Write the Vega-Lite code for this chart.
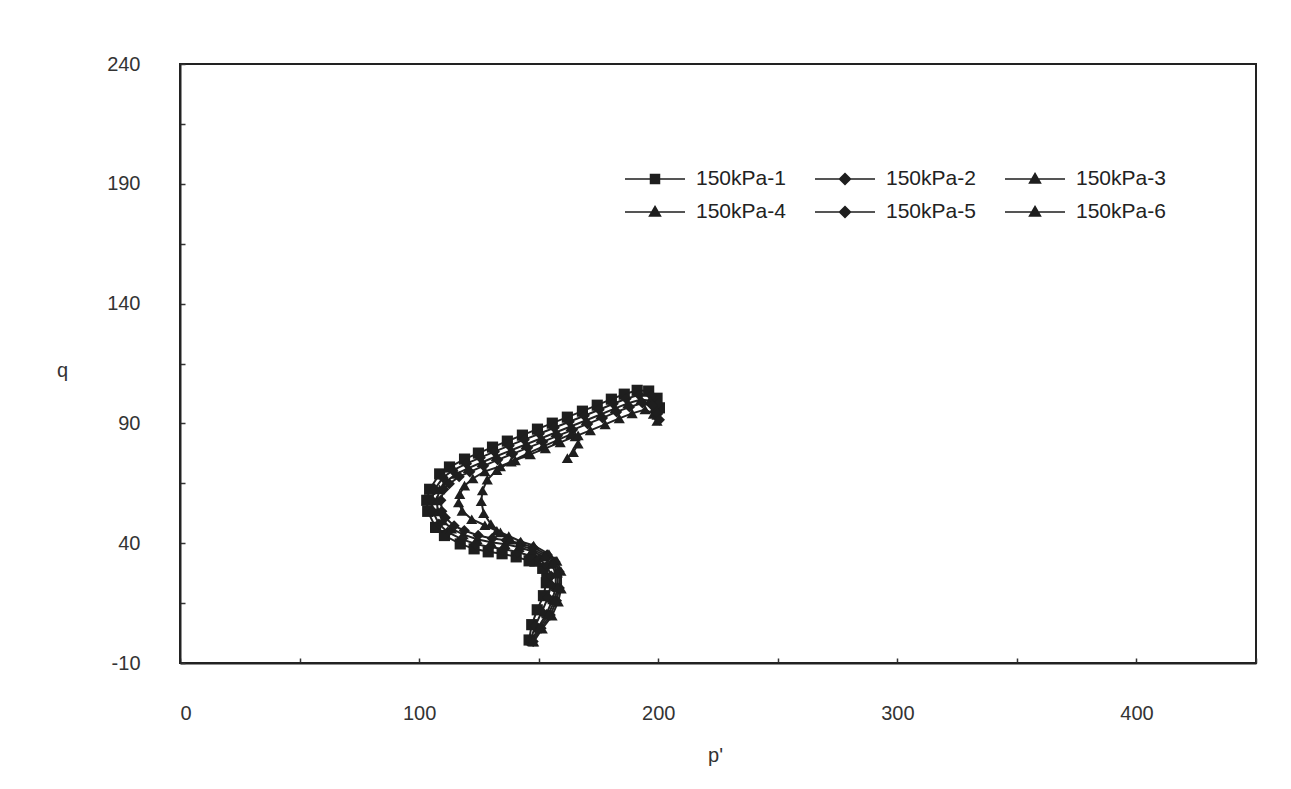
{
  "$schema": "https://vega.github.io/schema/vega-lite/v6.json",
  "autosize": {"type": "none"},
  "padding": {"left": 180, "top": 64, "right": 35, "bottom": 126},
  "width": 1076,
  "height": 599,
  "background": "white",
  "data": {"values": [
    {"s":"150kPa-1","i":0,"p":146.0,"q":-0.4},{"s":"150kPa-1","i":1,"p":147.1,"q":6.0},{"s":"150kPa-1","i":2,"p":149.4,"q":12.2},{"s":"150kPa-1","i":3,"p":152.0,"q":18.1},{"s":"150kPa-1","i":4,"p":153.2,"q":23.5},{"s":"150kPa-1","i":5,"p":153.4,"q":25.4},{"s":"150kPa-1","i":6,"p":151.7,"q":29.5},{"s":"150kPa-1","i":7,"p":148.4,"q":32.5},{"s":"150kPa-1","i":8,"p":146.0,"q":32.65},{"s":"150kPa-1","i":9,"p":140.6,"q":34.3},{"s":"150kPa-1","i":10,"p":134.7,"q":35.6},{"s":"150kPa-1","i":11,"p":128.9,"q":36.4},{"s":"150kPa-1","i":12,"p":123.0,"q":37.65},{"s":"150kPa-1","i":13,"p":117.2,"q":39.7},{"s":"150kPa-1","i":14,"p":110.6,"q":43.2},{"s":"150kPa-1","i":15,"p":106.9,"q":46.6},{"s":"150kPa-1","i":16,"p":103.6,"q":53.3},{"s":"150kPa-1","i":17,"p":103.2,"q":57.9},{"s":"150kPa-1","i":18,"p":104.4,"q":62.5},{"s":"150kPa-1","i":19,"p":108.6,"q":68.9},{"s":"150kPa-1","i":20,"p":112.7,"q":71.8},{"s":"150kPa-1","i":21,"p":119.0,"q":75.1},{"s":"150kPa-1","i":22,"p":124.8,"q":77.6},{"s":"150kPa-1","i":23,"p":130.7,"q":80.1},{"s":"150kPa-1","i":24,"p":136.9,"q":82.6},{"s":"150kPa-1","i":25,"p":143.2,"q":85.1},{"s":"150kPa-1","i":26,"p":149.5,"q":87.6},{"s":"150kPa-1","i":27,"p":155.7,"q":90.1},{"s":"150kPa-1","i":28,"p":162.0,"q":92.6},{"s":"150kPa-1","i":29,"p":168.3,"q":95.1},{"s":"150kPa-1","i":30,"p":174.5,"q":97.6},{"s":"150kPa-1","i":31,"p":180.4,"q":100.1},{"s":"150kPa-1","i":32,"p":185.8,"q":102.2},{"s":"150kPa-1","i":33,"p":191.2,"q":103.8},{"s":"150kPa-1","i":34,"p":196.0,"q":103.5},{"s":"150kPa-1","i":35,"p":199.5,"q":100.5},{"s":"150kPa-1","i":36,"p":200.5,"q":96.5},
    {"s":"150kPa-2","i":0,"p":146.6,"q":-0.6},{"s":"150kPa-2","i":1,"p":148.5,"q":5.4},{"s":"150kPa-2","i":2,"p":151.3,"q":11.4},{"s":"150kPa-2","i":3,"p":153.9,"q":17.3},{"s":"150kPa-2","i":4,"p":155.1,"q":22.7},{"s":"150kPa-2","i":5,"p":155.2,"q":26.3},{"s":"150kPa-2","i":6,"p":153.5,"q":30.5},{"s":"150kPa-2","i":7,"p":150.2,"q":33.4},{"s":"150kPa-2","i":8,"p":146.6,"q":34.65},{"s":"150kPa-2","i":9,"p":141.2,"q":36.3},{"s":"150kPa-2","i":10,"p":135.3,"q":37.6},{"s":"150kPa-2","i":11,"p":129.5,"q":38.4},{"s":"150kPa-2","i":12,"p":123.6,"q":39.65},{"s":"150kPa-2","i":13,"p":117.8,"q":41.7},{"s":"150kPa-2","i":14,"p":112.0,"q":44.6},{"s":"150kPa-2","i":15,"p":108.3,"q":48.0},{"s":"150kPa-2","i":16,"p":105.7,"q":53.3},{"s":"150kPa-2","i":17,"p":105.3,"q":57.9},{"s":"150kPa-2","i":18,"p":106.5,"q":62.5},{"s":"150kPa-2","i":19,"p":110.0,"q":67.4},{"s":"150kPa-2","i":20,"p":114.1,"q":70.4},{"s":"150kPa-2","i":21,"p":119.8,"q":73.2},{"s":"150kPa-2","i":22,"p":125.6,"q":75.7},{"s":"150kPa-2","i":23,"p":131.5,"q":78.2},{"s":"150kPa-2","i":24,"p":137.7,"q":80.7},{"s":"150kPa-2","i":25,"p":144.0,"q":83.2},{"s":"150kPa-2","i":26,"p":150.3,"q":85.7},{"s":"150kPa-2","i":27,"p":156.5,"q":88.2},{"s":"150kPa-2","i":28,"p":162.8,"q":90.7},{"s":"150kPa-2","i":29,"p":169.1,"q":93.2},{"s":"150kPa-2","i":30,"p":175.3,"q":95.7},{"s":"150kPa-2","i":31,"p":181.2,"q":98.2},{"s":"150kPa-2","i":32,"p":186.6,"q":100.3},{"s":"150kPa-2","i":33,"p":192.0,"q":101.9},{"s":"150kPa-2","i":34,"p":197.2,"q":101.5},{"s":"150kPa-2","i":35,"p":199.8,"q":98.0},
    {"s":"150kPa-3","i":0,"p":147.9,"q":-1.1},{"s":"150kPa-3","i":1,"p":151.5,"q":4.3},{"s":"150kPa-3","i":2,"p":155.6,"q":9.75},{"s":"150kPa-3","i":3,"p":158.2,"q":15.65},{"s":"150kPa-3","i":4,"p":159.4,"q":21.05},{"s":"150kPa-3","i":5,"p":159.3,"q":28.4},{"s":"150kPa-3","i":6,"p":157.6,"q":32.6},{"s":"150kPa-3","i":7,"p":154.3,"q":35.5},{"s":"150kPa-3","i":8,"p":147.9,"q":39.05},{"s":"150kPa-3","i":9,"p":142.5,"q":40.7},{"s":"150kPa-3","i":10,"p":137.5,"q":43.0},{"s":"150kPa-3","i":11,"p":132.5,"q":45.2},{"s":"150kPa-3","i":12,"p":127.5,"q":47.5},{"s":"150kPa-3","i":13,"p":122.0,"q":50.0},{"s":"150kPa-3","i":14,"p":118.0,"q":53.5},{"s":"150kPa-3","i":15,"p":116.5,"q":57.0},{"s":"150kPa-3","i":16,"p":117.0,"q":60.5},{"s":"150kPa-3","i":17,"p":119.0,"q":64.0},{"s":"150kPa-3","i":18,"p":122.5,"q":67.0},{"s":"150kPa-3","i":19,"p":127.5,"q":70.0},{"s":"150kPa-3","i":20,"p":134.0,"q":72.1},{"s":"150kPa-3","i":21,"p":140.2,"q":74.6},{"s":"150kPa-3","i":22,"p":146.5,"q":77.1},{"s":"150kPa-3","i":23,"p":152.8,"q":79.6},{"s":"150kPa-3","i":24,"p":159.0,"q":82.1},{"s":"150kPa-3","i":25,"p":165.3,"q":84.6},{"s":"150kPa-3","i":26,"p":171.6,"q":87.1},{"s":"150kPa-3","i":27,"p":177.8,"q":89.6},{"s":"150kPa-3","i":28,"p":183.7,"q":92.1},{"s":"150kPa-3","i":29,"p":189.1,"q":94.2},{"s":"150kPa-3","i":30,"p":194.5,"q":95.8},{"s":"150kPa-3","i":31,"p":198.0,"q":94.0},{"s":"150kPa-3","i":32,"p":199.5,"q":91.0},
    {"s":"150kPa-4","i":0,"p":147.2,"q":-0.8},{"s":"150kPa-4","i":1,"p":149.9,"q":4.9},{"s":"150kPa-4","i":2,"p":153.3,"q":10.65},{"s":"150kPa-4","i":3,"p":155.9,"q":16.55},{"s":"150kPa-4","i":4,"p":157.1,"q":21.95},{"s":"150kPa-4","i":5,"p":157.1,"q":27.3},{"s":"150kPa-4","i":6,"p":155.4,"q":31.4},{"s":"150kPa-4","i":7,"p":152.1,"q":34.4},{"s":"150kPa-4","i":8,"p":147.2,"q":36.65},{"s":"150kPa-4","i":9,"p":141.8,"q":38.3},{"s":"150kPa-4","i":10,"p":135.9,"q":39.6},{"s":"150kPa-4","i":11,"p":130.1,"q":40.4},{"s":"150kPa-4","i":12,"p":124.2,"q":41.65},{"s":"150kPa-4","i":13,"p":118.4,"q":43.7},{"s":"150kPa-4","i":14,"p":113.5,"q":46.1},{"s":"150kPa-4","i":15,"p":109.8,"q":49.5},{"s":"150kPa-4","i":16,"p":107.8,"q":53.3},{"s":"150kPa-4","i":17,"p":107.4,"q":57.9},{"s":"150kPa-4","i":18,"p":108.6,"q":62.5},{"s":"150kPa-4","i":19,"p":111.5,"q":66.0},{"s":"150kPa-4","i":20,"p":115.6,"q":68.9},{"s":"150kPa-4","i":21,"p":120.6,"q":71.3},{"s":"150kPa-4","i":22,"p":126.4,"q":73.8},{"s":"150kPa-4","i":23,"p":132.3,"q":76.3},{"s":"150kPa-4","i":24,"p":138.5,"q":78.8},{"s":"150kPa-4","i":25,"p":144.8,"q":81.3},{"s":"150kPa-4","i":26,"p":151.1,"q":83.8},{"s":"150kPa-4","i":27,"p":157.3,"q":86.3},{"s":"150kPa-4","i":28,"p":163.6,"q":88.8},{"s":"150kPa-4","i":29,"p":169.9,"q":91.3},{"s":"150kPa-4","i":30,"p":176.1,"q":93.8},{"s":"150kPa-4","i":31,"p":182.0,"q":96.3},{"s":"150kPa-4","i":32,"p":187.4,"q":98.4},{"s":"150kPa-4","i":33,"p":192.8,"q":100.0},{"s":"150kPa-4","i":34,"p":196.5,"q":99.5},{"s":"150kPa-4","i":35,"p":198.5,"q":96.5},{"s":"150kPa-4","i":36,"p":199.5,"q":93.5},
    {"s":"150kPa-5","i":0,"p":147.7,"q":-1.0},{"s":"150kPa-5","i":1,"p":151.0,"q":4.5},{"s":"150kPa-5","i":2,"p":154.85,"q":10.05},{"s":"150kPa-5","i":3,"p":157.45,"q":15.95},{"s":"150kPa-5","i":4,"p":158.65,"q":21.35},{"s":"150kPa-5","i":5,"p":158.55,"q":28.05},{"s":"150kPa-5","i":6,"p":156.85,"q":32.2},{"s":"150kPa-5","i":7,"p":153.55,"q":35.15},{"s":"150kPa-5","i":8,"p":147.7,"q":38.25},{"s":"150kPa-5","i":9,"p":142.3,"q":39.9},{"s":"150kPa-5","i":10,"p":136.4,"q":41.2},{"s":"150kPa-5","i":11,"p":130.6,"q":42.0},{"s":"150kPa-5","i":12,"p":124.7,"q":43.25},{"s":"150kPa-5","i":13,"p":118.9,"q":45.3},{"s":"150kPa-5","i":14,"p":114.65,"q":47.25},{"s":"150kPa-5","i":15,"p":110.95,"q":50.65},{"s":"150kPa-5","i":16,"p":109.5,"q":53.3},{"s":"150kPa-5","i":17,"p":109.1,"q":57.9},{"s":"150kPa-5","i":18,"p":110.3,"q":62.5},{"s":"150kPa-5","i":19,"p":112.65,"q":64.8},{"s":"150kPa-5","i":20,"p":116.75,"q":67.75},{"s":"150kPa-5","i":21,"p":121.2,"q":69.8},{"s":"150kPa-5","i":22,"p":127.0,"q":72.3},{"s":"150kPa-5","i":23,"p":132.9,"q":74.8},{"s":"150kPa-5","i":24,"p":139.1,"q":77.3},{"s":"150kPa-5","i":25,"p":145.4,"q":79.8},{"s":"150kPa-5","i":26,"p":151.7,"q":82.3},{"s":"150kPa-5","i":27,"p":157.9,"q":84.8},{"s":"150kPa-5","i":28,"p":164.2,"q":87.3},{"s":"150kPa-5","i":29,"p":170.5,"q":89.8},{"s":"150kPa-5","i":30,"p":176.7,"q":92.3},{"s":"150kPa-5","i":31,"p":182.6,"q":94.8},{"s":"150kPa-5","i":32,"p":188.0,"q":96.85},{"s":"150kPa-5","i":33,"p":193.4,"q":98.5},{"s":"150kPa-5","i":34,"p":197.5,"q":97.5},{"s":"150kPa-5","i":35,"p":199.8,"q":94.0},{"s":"150kPa-5","i":36,"p":200.5,"q":91.5},
    {"s":"150kPa-6","i":0,"p":147.45,"q":-0.95},{"s":"150kPa-6","i":1,"p":150.4,"q":4.7},{"s":"150kPa-6","i":2,"p":154.1,"q":10.35},{"s":"150kPa-6","i":3,"p":156.7,"q":16.25},{"s":"150kPa-6","i":4,"p":157.9,"q":21.65},{"s":"150kPa-6","i":5,"p":157.8,"q":27.7},{"s":"150kPa-6","i":6,"p":156.1,"q":31.8},{"s":"150kPa-6","i":7,"p":152.8,"q":34.8},{"s":"150kPa-6","i":8,"p":147.5,"q":37.45},{"s":"150kPa-6","i":9,"p":142.1,"q":39.1},{"s":"150kPa-6","i":10,"p":138.0,"q":41.5},{"s":"150kPa-6","i":11,"p":134.0,"q":44.5},{"s":"150kPa-6","i":12,"p":130.0,"q":48.0},{"s":"150kPa-6","i":13,"p":127.0,"q":52.5},{"s":"150kPa-6","i":14,"p":126.0,"q":57.5},{"s":"150kPa-6","i":15,"p":126.5,"q":62.0},{"s":"150kPa-6","i":16,"p":128.5,"q":66.5},{"s":"150kPa-6","i":17,"p":132.5,"q":70.5},{"s":"150kPa-6","i":18,"p":138.5,"q":74.0},{"s":"150kPa-6","i":19,"p":145.4,"q":77.5},{"s":"150kPa-6","i":20,"p":151.7,"q":80.3},{"s":"150kPa-6","i":21,"p":157.9,"q":83.0},{"s":"150kPa-6","i":22,"p":163.5,"q":85.5},{"s":"150kPa-6","i":23,"p":166.5,"q":85.0},{"s":"150kPa-6","i":24,"p":166.5,"q":81.5},{"s":"150kPa-6","i":25,"p":164.5,"q":78.0},{"s":"150kPa-6","i":26,"p":162.0,"q":75.5}
  ]},
  "encoding": {
    "x": {"field": "p", "type": "quantitative",
      "scale": {"domain": [0, 450], "nice": false, "zero": false},
      "axis": {"values": [0,50,100,150,200,250,300,350,400,450],
        "labelExpr": "datum.value % 100 === 0 && datum.value < 450 ? toString(datum.value) : ''",
        "title": "p'", "titleX": 535, "titleY": 92, "titleAlign": "center", "titleBaseline": "middle",
        "labelPadding": 45}},
    "y": {"field": "q", "type": "quantitative",
      "scale": {"domain": [-10, 240], "nice": false, "zero": false},
      "axis": {"values": [-10,15,40,65,90,115,140,165,190,215,240],
        "labelExpr": "(datum.value + 10) % 50 === 0 ? toString(datum.value) : ''",
        "title": "q", "titleAngle": 0, "titleX": -118, "titleY": 306, "titleAlign": "center", "titleBaseline": "middle",
        "labelPadding": 45}}
  },
  "layer": [
    {"mark": {"type": "line", "color": "#222", "strokeWidth": 2},
     "encoding": {"detail": {"field": "s"}, "order": {"field": "i", "type": "quantitative"}}},
    {"mark": {"type": "point", "filled": true, "size": 125, "color": "#1e1e1e", "opacity": 1},
     "encoding": {"shape": {"field": "s", "type": "nominal",
        "scale": {"domain": ["150kPa-1","150kPa-2","150kPa-3","150kPa-4","150kPa-5","150kPa-6"],
                  "range": ["square","diamond","triangle-up","triangle-up","diamond","triangle-up"]},
        "legend": null}}},
    {"transform": [{"filter": "datum.i < 0"}],
     "mark": {"type": "point", "filled": false, "size": 400, "color": "#1e1e1e", "strokeWidth": 1.5},
     "encoding": {"shape": {"field": "s", "type": "nominal",
        "scale": {"domain": ["150kPa-1","150kPa-2","150kPa-3","150kPa-4","150kPa-5","150kPa-6"],
                  "range": [
                    "M-3,0L3,0M-0.45,-0.45L0.45,-0.45L0.45,0.45L-0.45,0.45ZM-0.32,-0.32L0.32,-0.32L0.32,0.32L-0.32,0.32ZM-0.19,-0.19L0.19,-0.19L0.19,0.19L-0.19,0.19ZM-0.06,-0.06L0.06,-0.06L0.06,0.06L-0.06,0.06Z",
                    "M-3,0L3,0M0,-0.55L0.55,0L0,0.55L-0.55,0ZM0,-0.41L0.41,0L0,0.41L-0.41,0ZM0,-0.27L0.27,0L0,0.27L-0.27,0ZM0,-0.13L0.13,0L0,0.13L-0.13,0Z",
                    "M-3,0L3,0M0,-0.55L0.55,0.4L-0.55,0.4ZM0,-0.39L0.41,0.32L-0.41,0.32ZM0,-0.23L0.28,0.24L-0.28,0.24ZM0,-0.08L0.14,0.16L-0.14,0.16Z",
                    "M-3,0L3,0M0,-0.55L0.55,0.4L-0.55,0.4ZM0,-0.39L0.41,0.32L-0.41,0.32ZM0,-0.23L0.28,0.24L-0.28,0.24ZM0,-0.08L0.14,0.16L-0.14,0.16Z",
                    "M-3,0L3,0M0,-0.55L0.55,0L0,0.55L-0.55,0ZM0,-0.41L0.41,0L0,0.41L-0.41,0ZM0,-0.27L0.27,0L0,0.27L-0.27,0ZM0,-0.13L0.13,0L0,0.13L-0.13,0Z",
                    "M-3,0L3,0M0,-0.55L0.55,0.4L-0.55,0.4ZM0,-0.39L0.41,0.32L-0.41,0.32ZM0,-0.23L0.28,0.24L-0.28,0.24ZM0,-0.08L0.14,0.16L-0.14,0.16Z"]},
        "legend": {"orient": "none", "legendX": 464, "legendY": 104, "columns": 3, "direction": "horizontal",
          "title": null, "symbolSize": 400, "labelFontSize": 21, "labelFont": "Liberation Sans", "labelColor": "#222",
          "labelOffset": 30, "rowPadding": 12, "columnPadding": 26, "symbolStrokeWidth": 1.5,
          "symbolStrokeColor": "#1e1e1e", "symbolOpacity": 1}}}}
  ],
  "resolve": {"scale": {"shape": "independent"}, "legend": {"shape": "independent"}},
  "config": {
    "view": {"stroke": "#222", "strokeWidth": 2},
    "axis": {"labelFont": "Liberation Sans", "labelFontSize": 20, "labelColor": "#333",
      "titleFont": "Liberation Sans", "titleFontSize": 20, "titleFontWeight": "normal", "titleColor": "#333",
      "grid": false, "domainColor": "#222", "domainWidth": 2, "tickColor": "#333", "tickWidth": 1.5, "tickSize": -5}
  }
}
